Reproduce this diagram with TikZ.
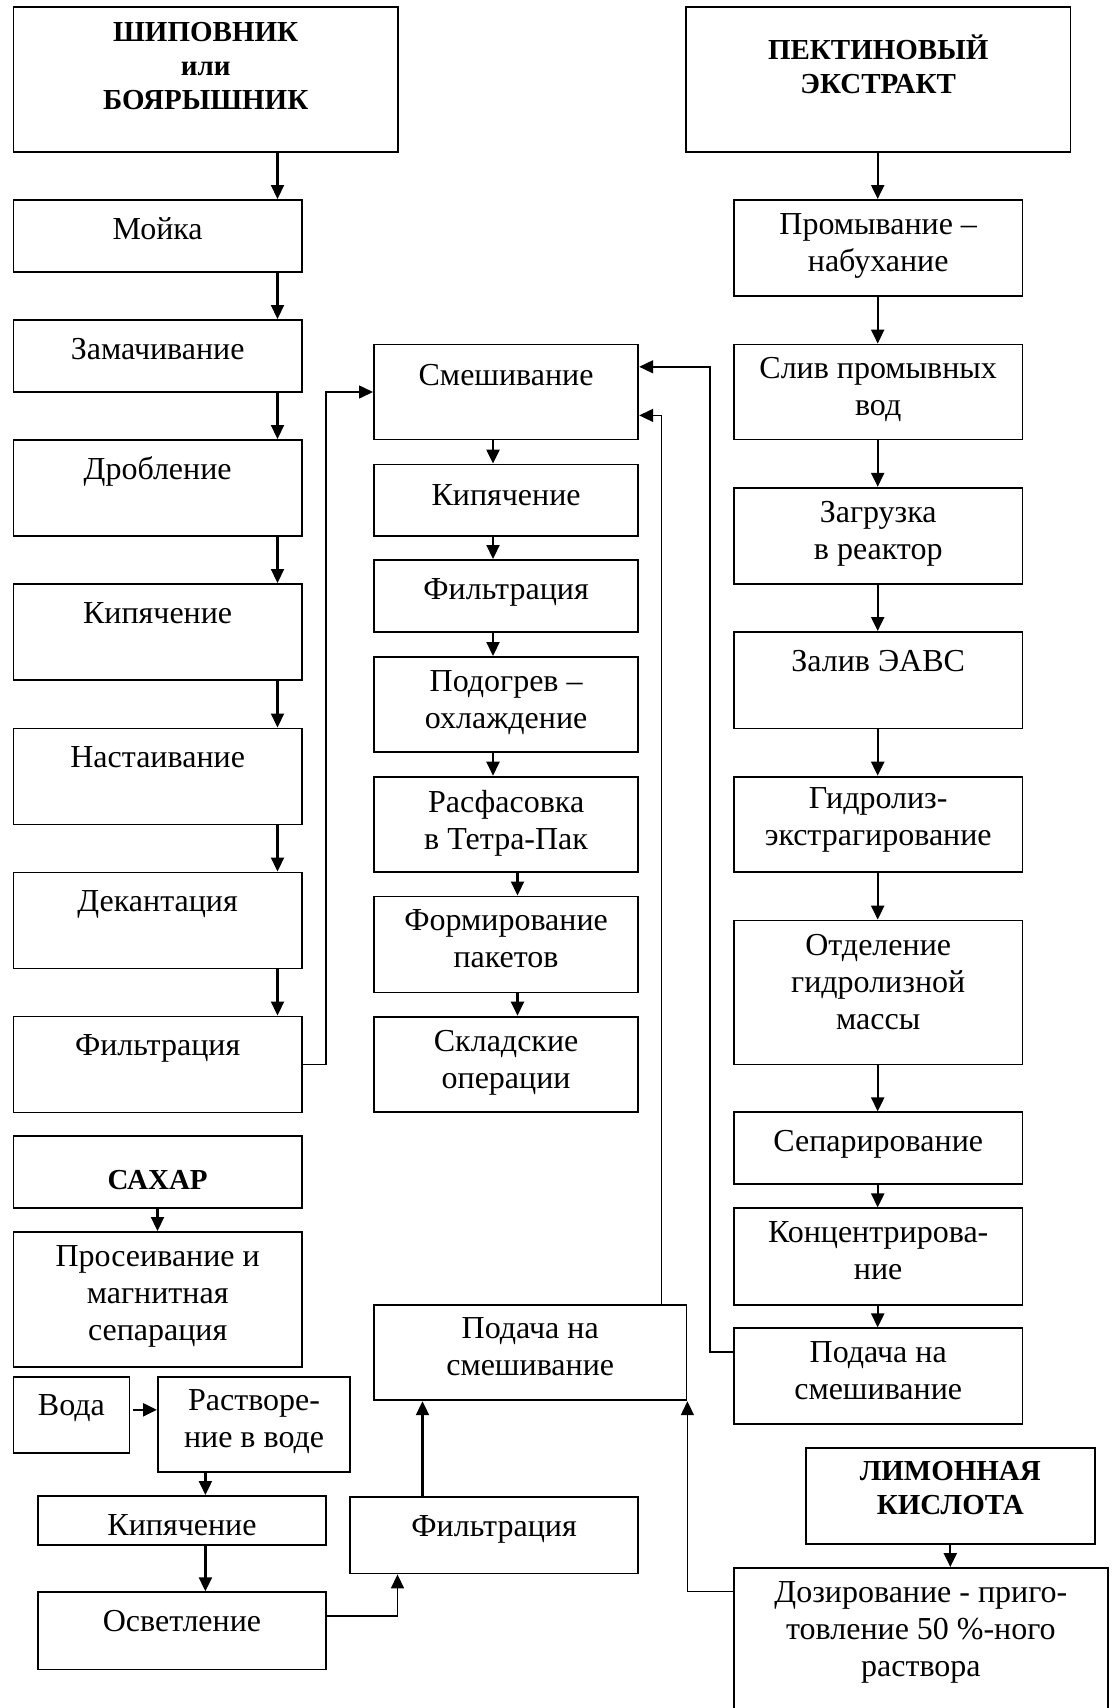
\documentclass[tikz,border=0pt]{standalone}
\usepackage{fontspec}
\setmainfont{Liberation Serif}
\usetikzlibrary{arrows.meta}

\tikzset{
  stage/.style={draw, line width=1.8pt, inner sep=0pt, anchor=north west},
  stagetext/.style={anchor=north, inner sep=0pt, align=center, font=\fontsize{32}{37}\selectfont, execute at begin node=\strut},
  headtext/.style={stagetext, font=\bfseries\fontsize{29}{34}\selectfont},
  flow/.style={->, line width=2.2pt},
  feed/.style={->, line width=1.6pt}
}

\begin{document}
\begin{tikzpicture}[x=1pt, y=-1pt, >={Triangle[length=14pt, width=13pt]}]
\path[use as bounding box, clip] (0,0) rectangle (1117,1708);

% rose hip / hawthorn line
\node[stage, minimum width=384.5pt, minimum height=144.6pt] (src1) at (12.5,6.4) {};
\node[headtext] (src1-t) at ([yshift=-16pt]src1.north) {ШИПОВНИК\\или\\БОЯРЫШНИК};
\node[stage, minimum width=288.5pt, minimum height=72pt] (moika) at (12.5,199) {};
\node[stagetext] (moika-t) at ([yshift=-14pt]moika.north) {Мойка};
\node[stage, minimum width=288.5pt, minimum height=72pt] (zamach) at (12.5,319) {};
\node[stagetext] (zamach-t) at ([yshift=-14pt]zamach.north) {Замачивание};
\node[stage, minimum width=288.5pt, minimum height=96pt] (drobl) at (12.5,439) {};
\node[stagetext] (drobl-t) at ([yshift=-14pt]drobl.north) {Дробление};
\node[stage, minimum width=288.5pt, minimum height=96pt] (kipL) at (12.5,583) {};
\node[stagetext] (kipL-t) at ([yshift=-14pt]kipL.north) {Кипячение};
\node[stage, minimum width=288.5pt, minimum height=96pt] (nast) at (12.5,727.5) {};
\node[stagetext] (nast-t) at ([yshift=-14pt]nast.north) {Настаивание};
\node[stage, minimum width=288.5pt, minimum height=96pt] (dekant) at (12.5,871.5) {};
\node[stagetext] (dekant-t) at ([yshift=-14pt]dekant.north) {Декантация};
\node[stage, minimum width=288.5pt, minimum height=96pt] (filtL) at (12.5,1015.5) {};
\node[stagetext] (filtL-t) at ([yshift=-14pt]filtL.north) {Фильтрация};

% sugar line
\node[stage, minimum width=288.5pt, minimum height=72.4pt] (sugar) at (12.5,1135) {};
\node[headtext] (sugar-t) at ([yshift=-30pt]sugar.north) {САХАР};
\node[stage, minimum width=288.5pt, minimum height=135pt] (sift) at (12.5,1231) {};
\node[stagetext] (sift-t) at ([yshift=-14pt]sift.north) {Просеивание и\\магнитная\\сепарация};
\node[stage, minimum width=116pt, minimum height=76.5pt] (water) at (12.5,1375.7) {};
\node[stagetext] (water-t) at ([yshift=-14pt]water.north) {Вода};
\node[stage, minimum width=192.3pt, minimum height=95.6pt] (dissolve) at (157,1375.7) {};
\node[stagetext] (dissolve-t) at ([yshift=-14pt]dissolve.north) {Растворе-\\ние в воде};
\node[stage, minimum width=288.6pt, minimum height=48.7pt] (kipS) at (36.8,1495) {};
\node[stagetext] (kipS-t) at ([yshift=-14pt]kipS.north) {Кипячение};
\node[stage, minimum width=288.6pt, minimum height=77.3pt] (clarif) at (36.8,1591.3) {};
\node[stagetext] (clarif-t) at ([yshift=-14pt]clarif.north) {Осветление};
\node[stage, minimum width=288.4pt, minimum height=76.6pt] (filtS) at (349,1496) {};
\node[stagetext] (filtS-t) at ([yshift=-14pt]filtS.north) {Фильтрация};
\node[stage, minimum width=312.6pt, minimum height=95.7pt] (feedS) at (373,1303.7) {};
\node[stagetext] (feedS-t) at ([yshift=-14pt]feedS.north) {Подача на\\смешивание};

% mixing line
\node[stage, minimum width=264.4pt, minimum height=95pt] (mix) at (373,343.6) {};
\node[stagetext] (mix-t) at ([yshift=-16pt]mix.north) {Смешивание};
\node[stage, minimum width=264.4pt, minimum height=71.4pt] (kipM) at (373,463.6) {};
\node[stagetext] (kipM-t) at ([yshift=-16pt]kipM.north) {Кипячение};
\node[stage, minimum width=264.4pt, minimum height=72pt] (filtM) at (373,559) {};
\node[stagetext] (filtM-t) at ([yshift=-14pt]filtM.north) {Фильтрация};
\node[stage, minimum width=264.4pt, minimum height=95pt] (heat) at (373,656) {};
\node[stagetext] (heat-t) at ([yshift=-14pt]heat.north) {Подогрев –\\охлаждение};
\node[stage, minimum width=264.4pt, minimum height=95.7pt] (pack) at (373,775.7) {};
\node[stagetext] (pack-t) at ([yshift=-14pt]pack.north) {Расфасовка\\в Тетра-Пак};
\node[stage, minimum width=264.4pt, minimum height=96pt] (form) at (373,895.5) {};
\node[stagetext] (form-t) at ([yshift=-14pt]form.north) {Формирование\\пакетов};
\node[stage, minimum width=264.4pt, minimum height=95.7pt] (store) at (373,1015.7) {};
\node[stagetext] (store-t) at ([yshift=-14pt]store.north) {Складские\\операции};

% pectin line
\node[stage, minimum width=384.5pt, minimum height=144.6pt] (src2) at (685,6.4) {};
\node[headtext] (src2-t) at ([yshift=-28pt]src2.north) {ПЕКТИНОВЫЙ\\ЭКСТРАКТ};
\node[stage, minimum width=288.6pt, minimum height=96pt] (wash) at (733,199) {};
\node[stagetext] (wash-t) at ([yshift=-14pt]wash.north) {Промывание –\\набухание};
\node[stage, minimum width=288.6pt, minimum height=95pt] (drain) at (733,343.6) {};
\node[stagetext] (drain-t) at ([yshift=-14pt]drain.north) {Слив промывных\\вод};
\node[stage, minimum width=288.6pt, minimum height=96.4pt] (load) at (733,486.8) {};
\node[stagetext] (load-t) at ([yshift=-14pt]load.north) {Загрузка\\в реактор};
\node[stage, minimum width=288.6pt, minimum height=96.5pt] (pour) at (733,631) {};
\node[stagetext] (pour-t) at ([yshift=-14pt]pour.north) {Залив ЭАВС};
\node[stage, minimum width=288.6pt, minimum height=95.7pt] (hydro) at (733,775.7) {};
\node[stagetext] (hydro-t) at ([yshift=-12pt]hydro.north) {Гидролиз-\\экстрагирование};
\node[stage, minimum width=288.6pt, minimum height=144pt] (separ) at (733,919.6) {};
\node[stagetext] (separ-t) at ([yshift=-14pt]separ.north) {Отделение\\гидролизной\\массы};
\node[stage, minimum width=288.6pt, minimum height=71.6pt] (centr) at (733,1111.4) {};
\node[stagetext] (centr-t) at ([yshift=-14pt]centr.north) {Сепарирование};
\node[stage, minimum width=288.6pt, minimum height=96.3pt] (conc) at (733,1207.4) {};
\node[stagetext] (conc-t) at ([yshift=-14pt]conc.north) {Концентрирова-\\ние};
\node[stage, minimum width=288.6pt, minimum height=95.6pt] (feedP) at (733,1327.4) {};
\node[stagetext] (feedP-t) at ([yshift=-14pt]feedP.north) {Подача на\\смешивание};

% citric acid line
\node[stage, minimum width=288.8pt, minimum height=95.7pt] (src4) at (805,1447.3) {};
\node[headtext] (src4-t) at ([yshift=-14pt]src4.north) {ЛИМОННАЯ\\КИСЛОТА};
\node[stage, minimum width=374pt, minimum height=170pt] (dose) at (733,1567) {};
\node[stagetext] (dose-t) at ([yshift=-14pt]dose.north) {Дозирование - приго-\\товление 50 \%-ного\\раствора};

% arrow columns
\coordinate (lx) at (277.5,0);
\coordinate (mx) at (493,0);
\coordinate (nx) at (517.5,0);
\coordinate (rx) at (877.7,0);
\coordinate (sx) at (157.5,0);
\coordinate (wx) at (205.4,0);
\coordinate (fx) at (422.5,0);
\coordinate (cx) at (397.5,0);
\coordinate (pin) at (710,0);
\coordinate (sin) at (661.3,0);
\coordinate (ma) at (0,366.8);
\coordinate (mb) at (0,415.4);
\coordinate (pa) at (0,1351.7);
\coordinate (da) at (0,1591.3);
\coordinate (ca) at (0,1615.7);
\coordinate (wa) at (0,1409.8);

\draw[flow] (src1.south -| lx) -- (moika.north -| lx);
\draw[flow] (moika.south -| lx) -- (zamach.north -| lx);
\draw[flow] (zamach.south -| lx) -- (drobl.north -| lx);
\draw[flow] (drobl.south -| lx) -- (kipL.north -| lx);
\draw[flow] (kipL.south -| lx) -- (nast.north -| lx);
\draw[flow] (nast.south -| lx) -- (dekant.north -| lx);
\draw[flow] (dekant.south -| lx) -- (filtL.north -| lx);

\draw[flow] (sugar.south -| sx) -- (sift.north -| sx);
\draw[flow, shorten <=3pt] (water.east |- wa) -- (dissolve.west |- wa);
\draw[flow] (dissolve.south -| wx) -- (kipS.north -| wx);
\draw[flow] (kipS.south -| wx) -- (clarif.north -| wx);
\draw[feed] (clarif.east |- ca) -| (filtS.south -| cx);
\draw[flow] (filtS.north -| fx) -- (feedS.south -| fx);

\draw[flow] (mix.south -| mx) -- (kipM.north -| mx);
\draw[flow] (kipM.south -| mx) -- (filtM.north -| mx);
\draw[flow] (filtM.south -| mx) -- (heat.north -| mx);
\draw[flow] (heat.south -| mx) -- (pack.north -| mx);
\draw[flow] (pack.south -| nx) -- (form.north -| nx);
\draw[flow] (form.south -| nx) -- (store.north -| nx);

\draw[flow] (src2.south -| rx) -- (wash.north -| rx);
\draw[flow] (wash.south -| rx) -- (drain.north -| rx);
\draw[flow] (drain.south -| rx) -- (load.north -| rx);
\draw[flow] (load.south -| rx) -- (pour.north -| rx);
\draw[flow] (pour.south -| rx) -- (hydro.north -| rx);
\draw[flow] (hydro.south -| rx) -- (separ.north -| rx);
\draw[flow] (separ.south -| rx) -- (centr.north -| rx);
\draw[flow] (centr.south -| rx) -- (conc.north -| rx);
\draw[flow] (conc.south -| rx) -- (feedP.north -| rx);
\draw[flow] (src4.south) -- (dose.north -| src4.south);

% feeds into mixing
\draw[feed] (filtL.east) -- ++(23.3,0) |- (mix.west);
\draw[feed] (feedP.west |- pa) -| (pin |- ma) -- (mix.east |- ma);
\draw[feed] (feedS.north -| sin) |- (mix.east |- mb);
\draw[feed] (dose.west |- da) -| (feedS.south east);
\end{tikzpicture}
\end{document}
